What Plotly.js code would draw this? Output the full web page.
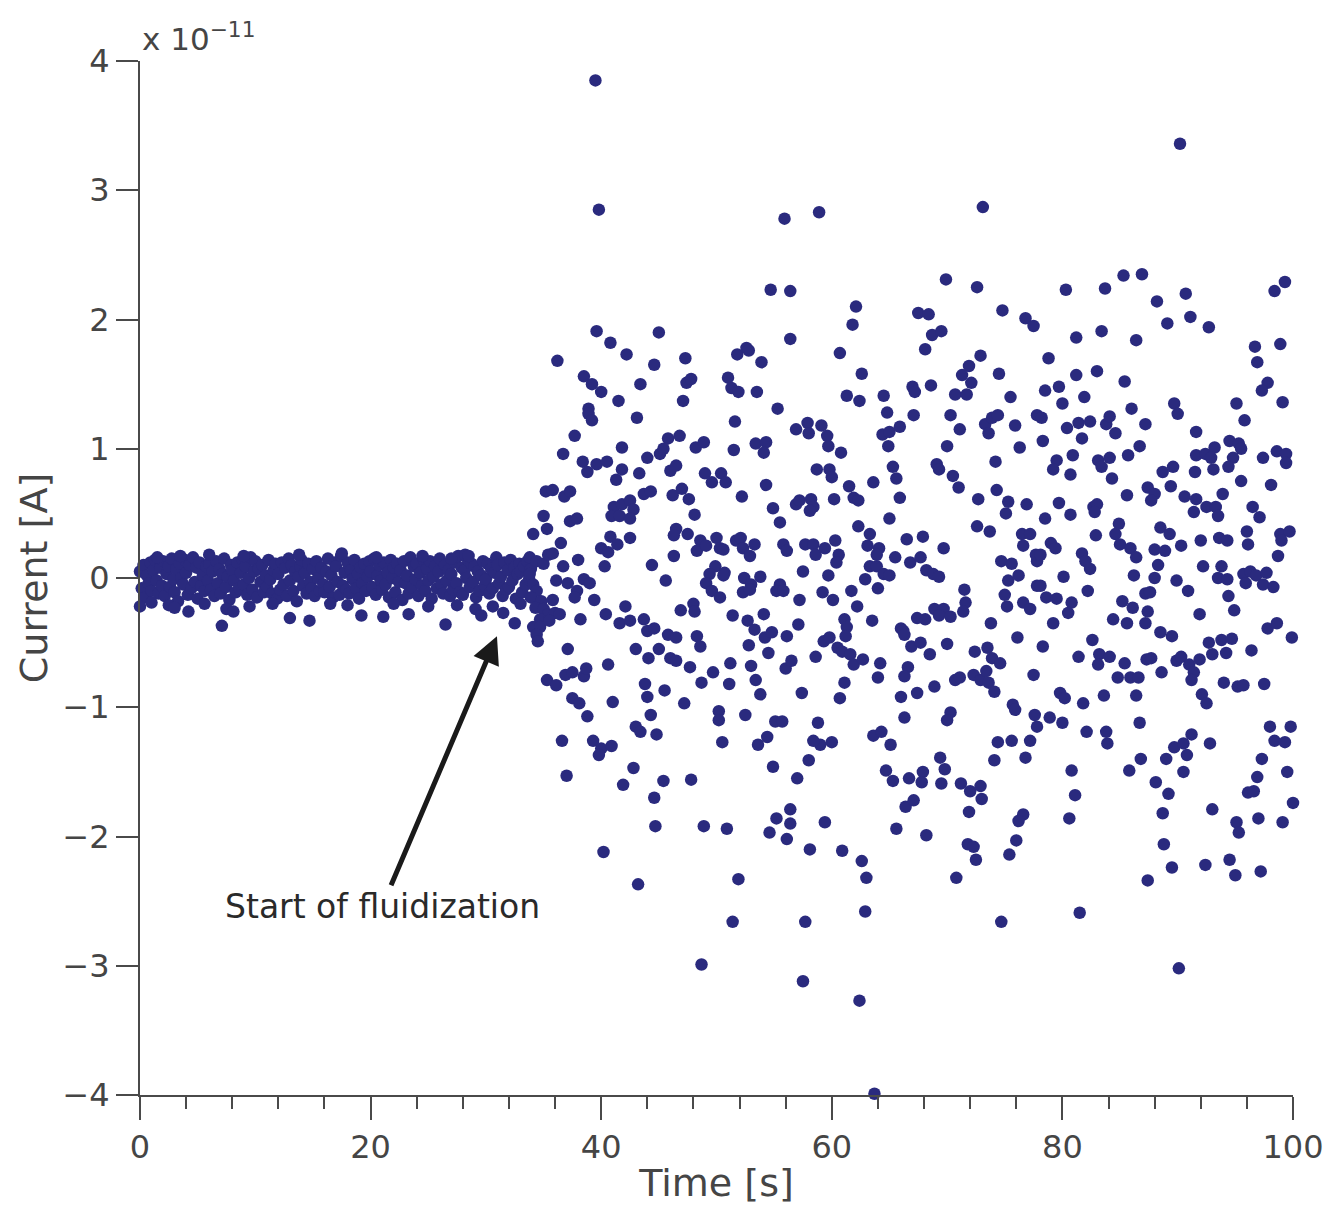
<!DOCTYPE html>
<html>
<head>
<meta charset="utf-8">
<script src="https://cdn.plot.ly/plotly-3.0.1.min.js"></script>
<style>html,body{margin:0;padding:0;background:#fff;}#chart{width:1337px;height:1205px;}</style>
</head>
<body>
<div id="chart"></div>
<script>
// Current values are in units of 1e-11 A (axis shows "x 10^-11").
const bandTime = [
0,0.15,0.3,0.45,0.6,0.75,0.9, 1,1.15,1.3,1.45,1.6,1.75,1.9, 2,2.15,2.3,2.45,2.6,2.75,2.9,
3,3.15,3.3,3.45,3.6,3.75,3.9, 4,4.15,4.3,4.45,4.6,4.75,4.9, 5,5.15,5.3,5.45,5.6,5.75,5.9,
6,6.15,6.3,6.45,6.6,6.75,6.9, 7,7.15,7.3,7.45,7.6,7.75,7.9, 8,8.15,8.3,8.45,8.6,8.75,8.9,
9,9.15,9.3,9.45,9.6,9.75,9.9, 10,10.15,10.3,10.45,10.6,10.75,10.9, 11,11.15,11.3,11.45,11.6,11.75,11.9,
12,12.15,12.3,12.45,12.6,12.75,12.9, 13,13.15,13.3,13.45,13.6,13.75,13.9, 14,14.15,14.3,14.45,14.6,14.75,14.9,
15,15.15,15.3,15.45,15.6,15.75,15.9, 16,16.15,16.3,16.45,16.6,16.75,16.9, 17,17.15,17.3,17.45,17.6,17.75,17.9,
18,18.15,18.3,18.45,18.6,18.75,18.9, 19,19.15,19.3,19.45,19.6,19.75,19.9, 20,20.15,20.3,20.45,20.6,20.75,20.9,
21,21.15,21.3,21.45,21.6,21.75,21.9, 22,22.15,22.3,22.45,22.6,22.75,22.9, 23,23.15,23.3,23.45,23.6,23.75,23.9,
24,24.15,24.3,24.45,24.6,24.75,24.9, 25,25.15,25.3,25.45,25.6,25.75,25.9, 26,26.15,26.3,26.45,26.6,26.75,26.9,
27,27.15,27.3,27.45,27.6,27.75,27.9, 28,28.15,28.3,28.45,28.6,28.75,28.9, 29,29.15,29.3,29.45,29.6,29.75,29.9,
30,30.15,30.3,30.45,30.6,30.75,30.9, 31,31.15,31.3,31.45,31.6,31.75,31.9, 32,32.15,32.3,32.45,32.6,32.75,32.9,
33,33.15,33.3,33.45,33.6,33.75,33.9
];
const bandCurrent = [
0.05,-0.08,0.10,-0.15,0.02,-0.04,0.12, -0.10,0.06,0.14,-0.02,-0.12,0.08,-0.06, 0.13,-0.14,0.03,0.09,-0.07,0.15,-0.01,
-0.11,0.07,-0.18,0.11,0.00,-0.05,0.14, 0.04,-0.13,0.10,-0.08,0.16,-0.03,0.08, -0.16,0.12,-0.06,0.02,-0.10,0.09,-0.02,
0.11,-0.09,0.05,-0.14,0.13,-0.04,0.07, -0.12,0.03,0.15,-0.07,0.01,-0.17,0.10, 0.06,-0.02,-0.11,0.12,-0.08,0.04,0.14,
-0.05,0.09,-0.13,0.00,0.16,-0.09,0.05, 0.13,-0.15,0.07,-0.03,0.10,-0.11,0.02, -0.07,0.14,-0.01,-0.12,0.06,0.11,-0.16,
0.03,-0.09,0.12,-0.05,0.08,-0.14,0.15, -0.02,0.10,-0.10,0.05,-0.18,0.01,0.09, 0.14,-0.06,0.04,-0.12,0.11,-0.03,-0.08,
0.07,-0.14,0.13,0.00,-0.10,0.08,-0.05, -0.11,0.05,0.15,-0.07,0.02,-0.15,0.12, 0.09,-0.03,-0.13,0.17,-0.06,0.04,-0.09,
0.12,-0.12,0.06,-0.01,0.14,-0.08,0.03, -0.16,0.08,-0.04,0.11,-0.10,0.01,0.13, 0.05,-0.07,0.15,-0.13,0.02,0.10,-0.02,
-0.09,0.12,-0.05,0.04,-0.15,0.14,0.00, 0.08,-0.11,0.11,-0.03,0.06,-0.17,0.13, -0.04,0.02,-0.12,0.16,-0.07,0.09,-0.01,
0.11,-0.14,0.04,-0.06,0.14,-0.10,0.07, -0.02,0.13,-0.16,0.01,0.09,-0.08,0.05, 0.15,-0.05,-0.12,0.10,-0.02,0.06,-0.14,
0.03,-0.09,0.12,-0.04,0.17,-0.11,0.08, -0.13,0.06,0.00,0.14,-0.07,0.11,-0.03, 0.09,-0.15,0.05,-0.10,0.02,0.13,-0.06,
-0.01,0.11,-0.12,0.07,-0.08,0.04,0.16, 0.10,-0.04,0.01,-0.14,0.12,-0.09,0.06, -0.07,0.14,-0.02,0.08,-0.16,0.03,0.11,
0.05,-0.11,0.09,-0.05,0.13,-0.01,0.07
];
const bandEdgeTime = [0,4.2,7.1,7.5,8.1,13.0,14.7,19.2,21.1,23.3,26.5,29.1,29.6,30.6,28.2,28.5,
1.0,2.5,3.0,5.6,9.5,11.5,16.5,18.0,22.0,25.0,27.5,31.5,32.5,33.0,
1.5,3.5,6.0,9.0,13.8,17.5,20.5,24.5,27.0];
const bandEdgeCurrent = [-0.22,-0.26,-0.37,-0.24,-0.26,-0.31,-0.33,-0.29,-0.30,-0.28,-0.36,-0.24,-0.29,-0.22,0.18,0.17,
-0.19,-0.21,-0.23,-0.20,-0.22,-0.20,-0.20,-0.21,-0.20,-0.22,-0.21,-0.27,-0.35,-0.20,
0.16,0.17,0.18,0.17,0.18,0.19,0.16,0.17,0.15];

// Fluidized regime, [time s, current 1e-11 A]
const fluidTop = [
[39.5,3.85],[39.8,2.85],[55.9,2.78],[54.7,2.23],[56.4,2.22],[39.6,1.91],[40.8,1.82],[45.0,1.90],[36.2,1.68],[42.2,1.73],
[44.6,1.65],[47.3,1.70],[51.8,1.73],[52.6,1.78],[52.8,1.76],[53.9,1.67],[38.5,1.56],[39.2,1.50],[40.0,1.44],[41.5,1.37],
[43.4,1.50],[47.4,1.51],[47.8,1.54],[47.1,1.37],[51.0,1.55],[51.3,1.47],[51.9,1.44],[53.5,1.44],[38.9,1.31],[55.3,1.31],[56.4,1.85],
[58.9,2.83],[73.1,2.87],[69.9,2.31],[72.6,2.25],[62.1,2.10],[67.5,2.05],[68.4,2.04],[61.8,1.96],[74.8,2.07],[76.8,2.01],
[77.5,1.95],[68.7,1.88],[69.5,1.91],[60.7,1.74],[68.1,1.77],[72.9,1.72],[71.9,1.64],[71.3,1.57],[72.1,1.51],[62.6,1.58],
[74.5,1.58],[67.0,1.48],[67.2,1.44],[68.6,1.49],[61.3,1.41],[62.4,1.37],[64.5,1.41],[70.7,1.42],[71.7,1.42],[75.5,1.40],
[90.2,3.36],[85.3,2.34],[86.9,2.35],[80.3,2.23],[83.7,2.24],[99.3,2.29],[98.4,2.22],[90.7,2.20],[88.2,2.14],[89.1,1.97],
[91.1,2.02],[92.7,1.94],[81.2,1.86],[83.4,1.91],[86.4,1.84],[96.7,1.79],[98.9,1.81],[96.9,1.67],[78.8,1.70],[81.2,1.57],
[83.0,1.60],[85.4,1.52],[78.5,1.45],[79.7,1.48],[80.0,1.35],[81.9,1.40],[97.8,1.51],[97.3,1.45],[89.7,1.35],[95.1,1.35],
[99.1,1.36],[86.0,1.31]
];
const fluidEarly = [
[38.9,1.27],[39.2,1.22],[43.1,1.24],[51.6,1.21],[37.7,1.10],[36.7,0.96],[41.8,1.01],[45.8,1.08],[46.8,1.10],[45.1,0.96],
[45.4,1.00],[44.0,0.93],[48.2,1.01],[48.9,1.05],[51.5,0.99],[53.4,1.04],[54.3,1.05],[54.1,0.97],[38.4,0.90],[38.8,0.82],
[39.6,0.88],[40.5,0.90],[41.8,0.84],[41.3,0.76],[43.3,0.81],[46.0,0.83],[46.5,0.87],[49.0,0.81],[49.6,0.74],[50.4,0.81],
[50.8,0.74],[54.3,0.72],[35.2,0.67],[35.8,0.68],[36.8,0.63],[37.3,0.67],[43.7,0.65],[44.3,0.67],[46.2,0.64],[47.0,0.69],
[47.6,0.61],[52.2,0.63],[54.9,0.54],[55.5,0.43],[41.1,0.55],[41.8,0.57],[42.5,0.60],[42.8,0.53],[40.9,0.48],[41.6,0.48],
[42.5,0.46],[35.0,0.48],[37.3,0.44],[37.9,0.46],[48.1,0.49],[35.3,0.38],[34.1,0.34],[40.8,0.32],[40.0,0.23],[40.6,0.20],
[41.4,0.26],[42.5,0.31],[36.5,0.27],[46.5,0.38],[46.3,0.33],[47.5,0.34],[48.6,0.29],[48.3,0.21],[49.1,0.25],[50.0,0.31],
[50.3,0.23],[50.6,0.22],[51.7,0.29],[52.1,0.31],[52.3,0.23],[53.3,0.26],[52.9,0.17],[55.8,0.26],[56.1,0.21],[46.3,0.17],
[38.0,0.14],[33.8,0.16],[34.4,0.13],[35.0,0.11],[35.4,0.18],[35.8,0.19],[36.7,0.09],[40.3,0.09],[44.4,0.10],[49.9,0.09],
[49.4,0.03],[50.7,0.04],[49.1,-0.04],[49.6,-0.10],[50.3,-0.15],[50.6,0.02],[45.6,-0.02],[52.4,0.00],[53.8,0.01],[53.0,-0.05],
[52.3,-0.11],[52.9,-0.09],[55.5,-0.05],[55.2,-0.10],[55.8,-0.10],[36.1,-0.02],[35.8,-0.17],[37.1,-0.04],[37.9,-0.10],[38.5,-0.01],
[39.0,-0.04],[37.7,-0.15],[33.8,0.03],[34.1,-0.05],[34.4,-0.10],[33.9,-0.15],[34.8,-0.18],[34.3,-0.23],[35.0,-0.24],[35.4,-0.28],
[34.7,-0.32],[36.0,-0.27],[36.4,-0.28],[34.1,-0.38],[34.7,-0.38],[35.5,-0.33],[34.4,-0.44],[34.5,-0.49],[39.4,-0.17],[40.4,-0.28],
[42.1,-0.22],[41.6,-0.35],[42.5,-0.33],[38.2,-0.32],[43.7,-0.32],[44.0,-0.41],[44.6,-0.39],[46.9,-0.25],[48.0,-0.20],[48.1,-0.26],
[51.4,-0.29],[52.7,-0.33],[53.3,-0.40],[54.1,-0.28],[54.2,-0.46],[54.8,-0.42],[56.1,-0.45],[45.8,-0.44],[46.5,-0.46],[48.3,-0.45],
[48.6,-0.53],[43.0,-0.55],[45.0,-0.55],[44.1,-0.62],[46.0,-0.62],[46.5,-0.64],[37.1,-0.55],[40.6,-0.67],[47.7,-0.69],[51.2,-0.66],
[52.8,-0.52],[54.5,-0.58],[53.0,-0.68],[56.0,-0.70],[35.3,-0.79],[36.1,-0.83],[36.9,-0.75],[37.5,-0.73],[38.5,-0.76],[38.7,-0.70],
[43.8,-0.82],[45.5,-0.87],[48.7,-0.81],[49.7,-0.73],[51.1,-0.82],[53.4,-0.79],[53.8,-0.90],[37.5,-0.93],[38.1,-0.97],[41.0,-0.96],
[44.0,-0.92],[47.2,-0.97],[38.8,-1.07],[44.3,-1.06],[43.0,-1.15],[43.4,-1.19],[44.8,-1.21],[50.2,-1.03],[50.2,-1.10],[52.5,-1.06],
[55.1,-1.11],[55.7,-1.11],[36.6,-1.26],[39.3,-1.26],[40.0,-1.32],[40.9,-1.30],[50.5,-1.27],[53.6,-1.29],[54.4,-1.23]
];
const fluidMiddle = [
[56.9,1.15],[57.9,1.20],[58.0,1.12],[59.1,1.18],[59.6,1.10],[59.7,1.02],[60.8,0.97],[64.8,1.28],[67.1,1.26],[70.3,1.26],
[71.1,1.15],[64.4,1.11],[65.0,1.13],[65.9,1.17],[64.9,1.02],[70.0,1.02],[73.3,1.19],[73.9,1.24],[74.4,1.26],[73.6,1.12],
[75.9,1.18],[76.3,1.01],[77.8,1.26],[58.7,0.84],[59.8,0.84],[60.0,0.78],[63.6,0.74],[65.3,0.86],[65.6,0.77],[69.1,0.88],
[69.3,0.84],[70.5,0.79],[71.0,0.70],[74.2,0.90],[74.3,0.68],[61.5,0.71],[61.9,0.62],[62.3,0.60],[60.2,0.61],[56.9,0.57],
[57.2,0.60],[58.2,0.61],[58.4,0.55],[58.1,0.52],[65.9,0.62],[72.7,0.61],[75.3,0.59],[75.1,0.50],[76.9,0.57],[62.3,0.40],
[65.0,0.46],[72.6,0.40],[73.7,0.36],[76.5,0.34],[77.2,0.34],[76.6,0.25],[63.3,0.34],[63.1,0.25],[64.1,0.23],[63.9,0.18],
[63.3,0.09],[63.9,0.09],[64.5,0.03],[65.0,0.02],[62.9,-0.01],[64.0,-0.08],[66.5,0.30],[67.9,0.32],[66.8,0.12],[67.7,0.16],
[69.7,0.23],[65.5,0.16],[68.2,0.06],[68.8,0.03],[69.3,0.01],[57.7,0.26],[58.4,0.26],[58.6,0.18],[59.4,0.23],[60.3,0.29],
[60.6,0.18],[60.4,0.12],[57.5,0.05],[59.7,0.02],[57.2,-0.17],[59.2,-0.11],[60.1,-0.17],[61.7,-0.10],[62.2,-0.22],[57.1,-0.36],
[61.1,-0.32],[61.3,-0.38],[61.2,-0.45],[63.5,-0.33],[66.0,-0.39],[66.2,-0.41],[67.4,-0.31],[68.1,-0.32],[68.9,-0.24],[69.7,-0.24],
[69.3,-0.29],[70.3,-0.30],[71.5,-0.09],[71.6,-0.19],[71.4,-0.26],[73.8,-0.35],[75.0,-0.13],[75.2,-0.22],[76.6,-0.19],[77.2,-0.24],
[77.8,-0.06],[75.3,-0.02],[76.2,0.02],[74.7,0.13],[75.6,0.11],[77.8,0.13],[77.7,0.18],[56.5,-0.64],[59.3,-0.49],[59.8,-0.46],
[60.5,-0.54],[60.9,-0.57],[61.6,-0.59],[61.9,-0.67],[62.7,-0.63],[58.6,-0.61],[64.2,-0.66],[64.0,-0.77],[61.1,-0.81],[60.7,-0.93],
[57.4,-0.89],[66.3,-0.44],[66.9,-0.53],[67.7,-0.50],[68.5,-0.59],[70.0,-0.51],[66.6,-0.69],[66.3,-0.76],[72.4,-0.57],[73.5,-0.54],
[73.9,-0.62],[74.6,-0.66],[76.1,-0.46],[72.3,-0.75],[72.9,-0.79],[73.4,-0.72],[73.6,-0.81],[74.1,-0.88],[70.7,-0.79],[71.1,-0.77],
[68.9,-0.84],[67.4,-0.89],[66.0,-0.92],[77.5,-0.75],[75.7,-0.98],[75.9,-1.02],[70.3,-1.04],[70.0,-1.10],[66.3,-1.08],[58.8,-1.12],
[63.6,-1.22],[64.3,-1.19],[77.8,-1.15],[77.6,-1.06]
];
const fluidLate = [
[90.0,1.27],[78.2,1.24],[80.4,1.16],[81.4,1.20],[82.4,1.21],[83.8,1.19],[84.1,1.25],[84.6,1.12],[78.3,1.06],[81.7,1.08],
[87.2,1.19],[91.6,1.13],[95.8,1.22],[86.7,1.02],[85.7,0.95],[80.9,0.95],[79.5,0.91],[79.2,0.84],[80.7,0.80],[83.1,0.91],
[84.1,0.93],[83.4,0.86],[84.3,0.77],[91.6,0.95],[92.4,0.96],[93.2,1.01],[92.9,0.93],[94.5,1.06],[95.3,1.04],[95.5,1.00],
[94.8,0.93],[94.4,0.86],[97.4,0.93],[98.6,0.98],[99.4,0.96],[99.4,0.89],[88.7,0.82],[89.6,0.86],[89.4,0.71],[91.5,0.82],
[93.1,0.84],[95.5,0.75],[98.1,0.72],[87.4,0.70],[88.0,0.65],[87.7,0.60],[85.6,0.64],[90.6,0.63],[91.6,0.61],[92.5,0.55],
[93.3,0.55],[93.5,0.48],[91.4,0.51],[93.9,0.65],[96.5,0.55],[97.1,0.47],[79.7,0.58],[80.7,0.49],[78.5,0.46],[82.7,0.55],
[83.0,0.57],[82.8,0.51],[79.0,0.27],[79.4,0.23],[78.1,0.18],[82.9,0.33],[84.9,0.42],[84.6,0.34],[85.0,0.26],[85.9,0.23],
[86.4,0.16],[88.5,0.39],[89.3,0.34],[88.0,0.22],[88.9,0.21],[90.3,0.25],[92.0,0.29],[93.6,0.31],[94.3,0.29],[96.0,0.36],
[96.1,0.26],[98.9,0.34],[99.7,0.36],[99.0,0.29],[98.7,0.17],[81.7,0.19],[82.0,0.13],[82.4,0.07],[80.1,0.01],[88.3,0.10],
[92.2,0.09],[93.8,0.09],[93.5,0.00],[94.3,-0.01],[95.7,0.03],[96.3,0.05],[95.9,-0.04],[96.8,0.02],[97.7,0.04],[97.4,-0.05],
[98.3,-0.07],[86.2,0.02],[88.0,0.00],[89.9,-0.02],[90.9,-0.10],[87.2,-0.12],[87.6,-0.11],[82.2,-0.10],[78.1,-0.06],[78.6,-0.15],
[79.5,-0.16],[80.8,-0.19],[80.5,-0.27],[85.2,-0.18],[86.1,-0.23],[87.4,-0.26],[87.2,-0.35],[84.4,-0.32],[85.6,-0.35],[79.2,-0.35],
[94.4,-0.14],[94.9,-0.25],[91.9,-0.28],[97.8,-0.39],[98.6,-0.35],[99.9,-0.46],[88.5,-0.42],[89.5,-0.45],[78.3,-0.53],[82.6,-0.48],
[92.7,-0.50],[93.8,-0.48],[94.7,-0.47],[93.0,-0.59],[94.2,-0.58],[96.4,-0.56],[81.4,-0.61],[83.2,-0.59],[84.1,-0.61],[83.1,-0.67],
[85.4,-0.66],[87.3,-0.63],[87.7,-0.62],[89.9,-0.64],[90.3,-0.61],[91.0,-0.67],[91.9,-0.63],[84.8,-0.77],[85.9,-0.77],[86.6,-0.77],
[88.6,-0.73],[91.4,-0.73],[91.2,-0.79],[94.0,-0.81],[95.2,-0.84],[95.7,-0.83],[97.5,-0.82],[79.8,-0.89],[80.2,-0.93],[81.8,-0.97],
[83.6,-0.91],[86.4,-0.91],[92.1,-0.90],[92.5,-0.97],[78.9,-1.08],[80.0,-1.12],[82.1,-1.19],[83.8,-1.19],[86.7,-1.12],[91.2,-1.21],
[98.0,-1.15],[99.8,-1.15]
];
const fluidBottom = [
[39.8,-1.37],[37.0,-1.53],[42.8,-1.47],[41.9,-1.60],[45.4,-1.57],[47.8,-1.56],[44.6,-1.70],[54.9,-1.46],[44.7,-1.92],[48.9,-1.92],
[50.9,-1.94],[55.2,-1.86],[54.6,-1.97],[56.1,-2.02],[56.4,-1.79],[56.4,-1.90],[40.2,-2.12],[43.2,-2.37],[51.9,-2.33],[51.4,-2.66],
[48.7,-2.99],
[58.0,-1.41],[59.0,-1.29],[58.4,-1.26],[60.0,-1.27],[57.0,-1.55],[59.4,-1.89],[58.1,-2.10],[60.9,-2.11],[62.6,-2.19],[63.0,-2.32],
[62.9,-2.58],[57.7,-2.66],[57.5,-3.12],[62.4,-3.27],[63.7,-3.99],[65.1,-1.29],[64.7,-1.49],[65.3,-1.57],[66.7,-1.55],[67.9,-1.50],
[67.8,-1.58],[66.4,-1.77],[67.1,-1.72],[65.6,-1.94],[68.2,-1.99],[69.4,-1.39],[69.8,-1.48],[69.5,-1.59],[71.2,-1.59],[72.0,-1.65],
[72.9,-1.61],[73.0,-1.71],[71.9,-1.81],[71.8,-2.06],[72.3,-2.08],[72.5,-2.18],[70.8,-2.32],[74.7,-2.66],[74.4,-1.27],[75.6,-1.26],
[77.2,-1.26],[74.1,-1.41],[76.8,-1.39],[76.6,-1.83],[76.2,-1.88],[76.0,-2.03],[75.4,-2.14],
[80.8,-1.49],[81.1,-1.68],[80.6,-1.86],[81.5,-2.59],[83.9,-1.28],[85.8,-1.49],[86.8,-1.40],[88.1,-1.58],[89.0,-1.40],[89.7,-1.31],
[90.5,-1.28],[90.8,-1.37],[90.5,-1.50],[89.2,-1.67],[88.7,-1.82],[88.8,-2.06],[89.5,-2.24],[87.4,-2.34],[90.1,-3.02],[92.8,-1.28],
[93.0,-1.79],[92.4,-2.22],[94.5,-2.18],[95.0,-2.30],[95.1,-1.89],[95.3,-1.97],[97.2,-2.27],[97.0,-1.86],[96.1,-1.66],[96.6,-1.65],
[96.9,-1.54],[97.3,-1.40],[98.4,-1.26],[99.3,-1.27],[99.5,-1.50],[100.0,-1.74],[99.1,-1.89]
];

const fluidAll = fluidTop.concat(fluidEarly, fluidMiddle, fluidLate, fluidBottom);
const xs = bandTime.concat(bandEdgeTime, fluidAll.map(p => p[0]));
const ys = bandCurrent.concat(bandEdgeCurrent, fluidAll.map(p => p[1]));

const yTickVals = [-4,-3,-2,-1,0,1,2,3,4];
const xTickVals = [0,20,40,60,80,100];

const axisColor = '#4a4a4a';
const textColor = '#454545';
const FONT = 'DejaVu Sans, sans-serif';

const trace = {
  type: 'scatter', mode: 'markers', x: xs, y: ys,
  marker: {color: '#2a2a7e', size: 12.5, line: {width: 0}},
  cliponaxis: false, hoverinfo: 'skip'
};

const layout = {
  width: 1337, height: 1205,
  margin: {l: 140, r: 44, t: 61, b: 110},
  paper_bgcolor: '#ffffff', plot_bgcolor: '#ffffff',
  showlegend: false,
  font: {family: FONT, color: textColor},
  xaxis: {
    range: [0, 100], tickvals: xTickVals, ticks: 'outside', ticklen: 23, tickwidth: 2, tickcolor: axisColor,
    showline: true, linecolor: axisColor, linewidth: 2, showgrid: false, zeroline: false,
    tickfont: {size: 32, color: textColor, family: FONT},
    minor: {dtick: 4, tick0: 0, ticks: 'outside', ticklen: 12, tickwidth: 2, tickcolor: axisColor, showgrid: false},
    title: {text: 'Time [s]', font: {size: 38, color: textColor, family: FONT}, standoff: 8},
    automargin: false
  },
  yaxis: {
    range: [-4, 4], tickvals: yTickVals, ticks: 'outside', ticklen: 22, tickwidth: 2, tickcolor: axisColor,
    showline: true, linecolor: axisColor, linewidth: 2, showgrid: false, zeroline: false,
    tickfont: {size: 32, color: textColor, family: FONT},
    title: {text: 'Current [A]', font: {size: 38, color: textColor, family: FONT}, standoff: 3},
    automargin: false
  },
  annotations: [
    {xref: 'paper', yref: 'paper', x: 0, y: 1, xanchor: 'left', yanchor: 'bottom', yshift: 2,
     text: 'x 10<sup>\u221211</sup>', showarrow: false, font: {size: 31, color: textColor, family: FONT}},
    {xref: 'x', yref: 'y', axref: 'x', ayref: 'y', x: 30.96, y: -0.45, ax: 21.0, ay: -2.54,
     text: 'Start of fluidization', showarrow: true, arrowhead: 2, arrowsize: 1.1, arrowwidth: 5, arrowcolor: '#1a1a1a',
     font: {size: 33, color: '#2a2a2a', family: FONT}}
  ]
};

Plotly.newPlot('chart', [trace], layout, {displayModeBar: false, staticPlot: true});
</script>
</body>
</html>
